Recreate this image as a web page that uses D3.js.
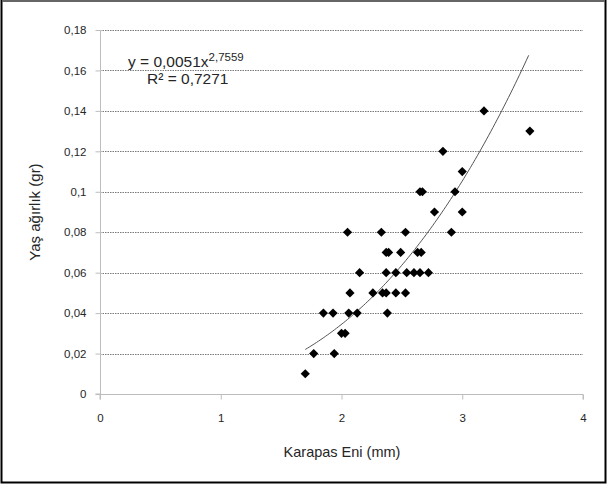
<!DOCTYPE html>
<html>
<head>
<meta charset="utf-8">
<script src="https://cdn.jsdelivr.net/npm/d3@7"></script>
<style>
  body { margin: 0; background: #fff; }
  text { font-family: "Liberation Sans", Arial, sans-serif; fill: #262626; }
</style>
</head>
<body>
<svg id="chart" width="608" height="488"></svg>
<script>
// Data
const karapasEni = [1.70, 1.77, 1.85, 1.93, 1.94, 2.00, 2.03, 2.05, 2.06, 2.07, 2.13, 2.15,
  2.26, 2.33, 2.34, 2.37, 2.37, 2.38, 2.37, 2.39, 2.45, 2.45, 2.49, 2.53, 2.53, 2.54,
  2.60, 2.63, 2.65, 2.65, 2.67, 2.66, 2.72, 2.77, 2.84, 2.91, 2.94, 3.00, 3.00, 3.18, 3.56];
const yasAgirlik = [0.01, 0.02, 0.04, 0.04, 0.02, 0.03, 0.03, 0.08, 0.04, 0.05, 0.04, 0.06,
  0.05, 0.08, 0.05, 0.06, 0.07, 0.04, 0.05, 0.07, 0.06, 0.05, 0.07, 0.08, 0.05, 0.06,
  0.06, 0.07, 0.06, 0.10, 0.10, 0.07, 0.06, 0.09, 0.12, 0.08, 0.10, 0.11, 0.09, 0.14, 0.13];
const xTicks = [0, 1, 2, 3, 4];
const yTicks = [0, 0.02, 0.04, 0.06, 0.08, 0.1, 0.12, 0.14, 0.16, 0.18];
const fitA = 0.0051, fitB = 2.7559;   // power trend line
const fitRange = [1.70, 3.55];

const svg = d3.select('#chart');
const mLeft = 100, mRight = 583, mTop = 30, mBottom = 394;

const x = d3.scaleLinear().domain([0, 4]).range([mLeft, mRight]);
const y = d3.scaleLinear().domain([0, 0.18]).range([mBottom, mTop]);
const fmt = v => String(+v.toFixed(2)).replace('.', ',');

// outer frame
svg.append('rect').attr('x', 1.5).attr('y', 1).attr('width', 604).attr('height', 481.5)
  .attr('fill', 'none').attr('stroke', '#000').attr('stroke-width', 2);
svg.append('line').attr('x1', 2).attr('x2', 605).attr('y1', 1).attr('y2', 1)
  .attr('stroke', '#888').attr('stroke-width', 1.5);

// gridlines
svg.append('g').selectAll('line').data(yTicks.filter(d => d > 0)).join('line')
  .attr('x1', mLeft).attr('x2', mRight)
  .attr('y1', d => Math.round(y(d)) + 0.5).attr('y2', d => Math.round(y(d)) + 0.5)
  .attr('stroke', '#7a7a7a').attr('stroke-width', 1).attr('stroke-dasharray', '1.5,1');

// axes
const xAxis = svg.append('g').attr('transform', `translate(0,${mBottom + 0.5})`)
  .call(d3.axisBottom(x).tickValues(xTicks).tickSize(5).tickPadding(14).tickFormat(fmt));
const yAxis = svg.append('g').attr('transform', `translate(${mLeft + 0.5},0)`)
  .call(d3.axisLeft(y).tickValues(yTicks).tickSize(5).tickPadding(9).tickFormat(fmt));
[xAxis, yAxis].forEach(a => {
  a.select('.domain').attr('stroke', '#bdbdbd');
  a.selectAll('.tick line').attr('stroke', '#bdbdbd');
  a.selectAll('.tick text').style('font-size', '11.5px').attr('fill', '#262626');
});
yAxis.select('.domain').attr('d', `M-5,${mBottom}H0V${mTop}`);
xAxis.select('.domain').attr('d', `M${mLeft},5V0H${mRight}V5`);

// trend line
const curveXs = d3.range(0, 101).map(i => fitRange[0] + (fitRange[1] - fitRange[0]) * i / 100);
svg.append('path')
  .datum(curveXs)
  .attr('fill', 'none').attr('stroke', '#555').attr('stroke-width', 1)
  .attr('d', d3.line().x(d => x(d)).y(d => y(fitA * Math.pow(d, fitB))));

// points
svg.append('g').selectAll('path').data(karapasEni).join('path')
  .attr('d', d3.symbol(d3.symbolSquare, 42))
  .attr('transform', (d, i) => `translate(${x(d)},${y(yasAgirlik[i])}) rotate(45)`)
  .attr('fill', '#000');

// equation
const eq = svg.append('text').attr('x', 128).attr('y', 67).style('font-size', '15.5px');
eq.append('tspan').text('y = 0,0051x');
eq.append('tspan').attr('dy', -6).style('font-size', '11.5px').text('2,7559');
svg.append('text').attr('x', 147).attr('y', 84).style('font-size', '15.5px').text('R² = 0,7271');

// axis titles
svg.append('text').attr('x', 342).attr('y', 457).attr('text-anchor', 'middle')
  .style('font-size', '14.5px').text('Karapas Eni (mm)');
svg.append('text').attr('transform', `translate(40,${(mTop + mBottom) / 2}) rotate(-90)`)
  .attr('text-anchor', 'middle').style('font-size', '15px').text('Yaş ağırlık (gr)');
</script>
</body>
</html>
